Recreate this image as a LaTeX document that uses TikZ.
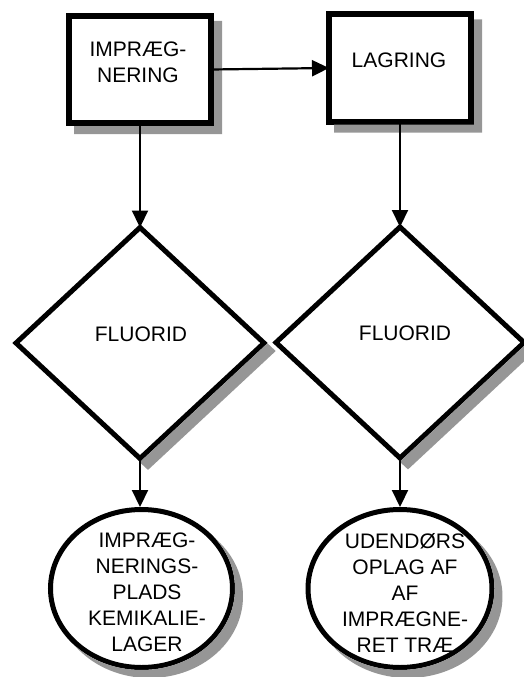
\documentclass[tikz,border=0pt]{standalone}
\usepackage{fontspec}
\setmainfont{Liberation Sans}
\usetikzlibrary{shapes.geometric,arrows.meta}

\definecolor{shadowgrey}{RGB}{150,150,150}

\tikzset{
  procbox/.style={rectangle, draw, fill=white, line width=6pt, outer sep=0pt,
      minimum width=142pt, minimum height=107pt, inner sep=0pt},
  decision/.style={diamond, draw, fill=white, line width=5pt, outer sep=0pt,
      minimum width=248pt, minimum height=231pt, inner sep=0pt},
  terminal/.style={ellipse, draw, fill=white, line width=5pt,
      minimum height=158pt, inner sep=0pt},
  shadowfill/.style={fill=shadowgrey, draw=none},
  lbl/.style={align=center, inner sep=0pt, font=\fontsize{21}{26}\selectfont},
  flow/.style={line width=2.2pt, -{Triangle[length=17pt,width=16pt]}}
}

\begin{document}
\begin{tikzpicture}[x=1pt, y=-1pt]
\useasboundingbox (0,0) rectangle (523,677);

% shapes
\node[procbox] (b1) at (140,69.5) {};
\node[procbox] (b2) at (400,68) {};
\node[decision] (d1) at (140,343) {};
\node[decision] (d2) at (400,342.5) {};
\node[terminal, minimum width=182pt] (e1) at (141.5,588.5) {};
\node[terminal, minimum width=184pt] (e2) at (400,588.5) {};

% shadows: the strip of each outline, moved 8pt right and down,
% that lies outside the shape itself
\fill[shadowfill] (214,21) -- (222,21) -- (222,134) -- (74,134)
  -- (74,126) -- (214,126) -- cycle;
\fill[shadowfill] (474,19.5) -- (482,19.5) -- (482,132.5) -- (334,132.5)
  -- (334,124.5) -- (474,124.5) -- cycle;
\fill[shadowfill] (267.4,343.3) -- (275.7,351) -- (148,469.9)
  -- (139.7,462.2) -- cycle;
\fill[shadowfill] (527.4,342.8) -- (535.7,350.5) -- (408,469.4)
  -- (399.7,461.7) -- cycle;
\fill[shadowfill]
  plot[domain=0:1, samples=80, variable=\t]
    ({149.5+93.5*cos(-44.8+187.5*\t)}, {596.5+81.5*sin(-44.8+187.5*\t)})
  -- plot[domain=0:1, samples=80, variable=\t]
    ({141.5+93.5*cos(135.2-172.5*\t)}, {588.5+81.5*sin(135.2-172.5*\t)})
  -- cycle;
\fill[shadowfill]
  plot[domain=0:1, samples=80, variable=\t]
    ({408+94.5*cos(-44.5+187.4*\t)}, {596.5+81.5*sin(-44.5+187.4*\t)})
  -- plot[domain=0:1, samples=80, variable=\t]
    ({400+94.5*cos(135.5-172.6*\t)}, {588.5+81.5*sin(135.5-172.6*\t)})
  -- cycle;

% labels
\node[lbl] (t1) at (138,62.5) {IMPRÆG-\\NERING};
\node[lbl] (t2) at (399,60.5) {LAGRING};
\node[lbl] (t3) at (141,334.5) {FLUORID};
\node[lbl] (t4) at (405,333.5) {FLUORID};
\node[lbl] (t5) at (147,592.5) {IMPRÆG-\\NERINGS-\\PLADS\\KEMIKALIE-\\LAGER};
\node[lbl] (t6) at (405,592.5) {UDENDØRS\\OPLAG AF\\AF\\IMPRÆGNE-\\RET TRÆ};

% connectors
\draw[flow] (b1.east) -- (b2.west);
\draw[flow] (b1.south) -- (d1.north);
\draw[flow] (b2.south) -- (d2.north);
\draw[flow] (d1.south) -- (d1.south |- e1.north);
\draw[flow] (d2.south) -- (e2.north);
\end{tikzpicture}
\end{document}
